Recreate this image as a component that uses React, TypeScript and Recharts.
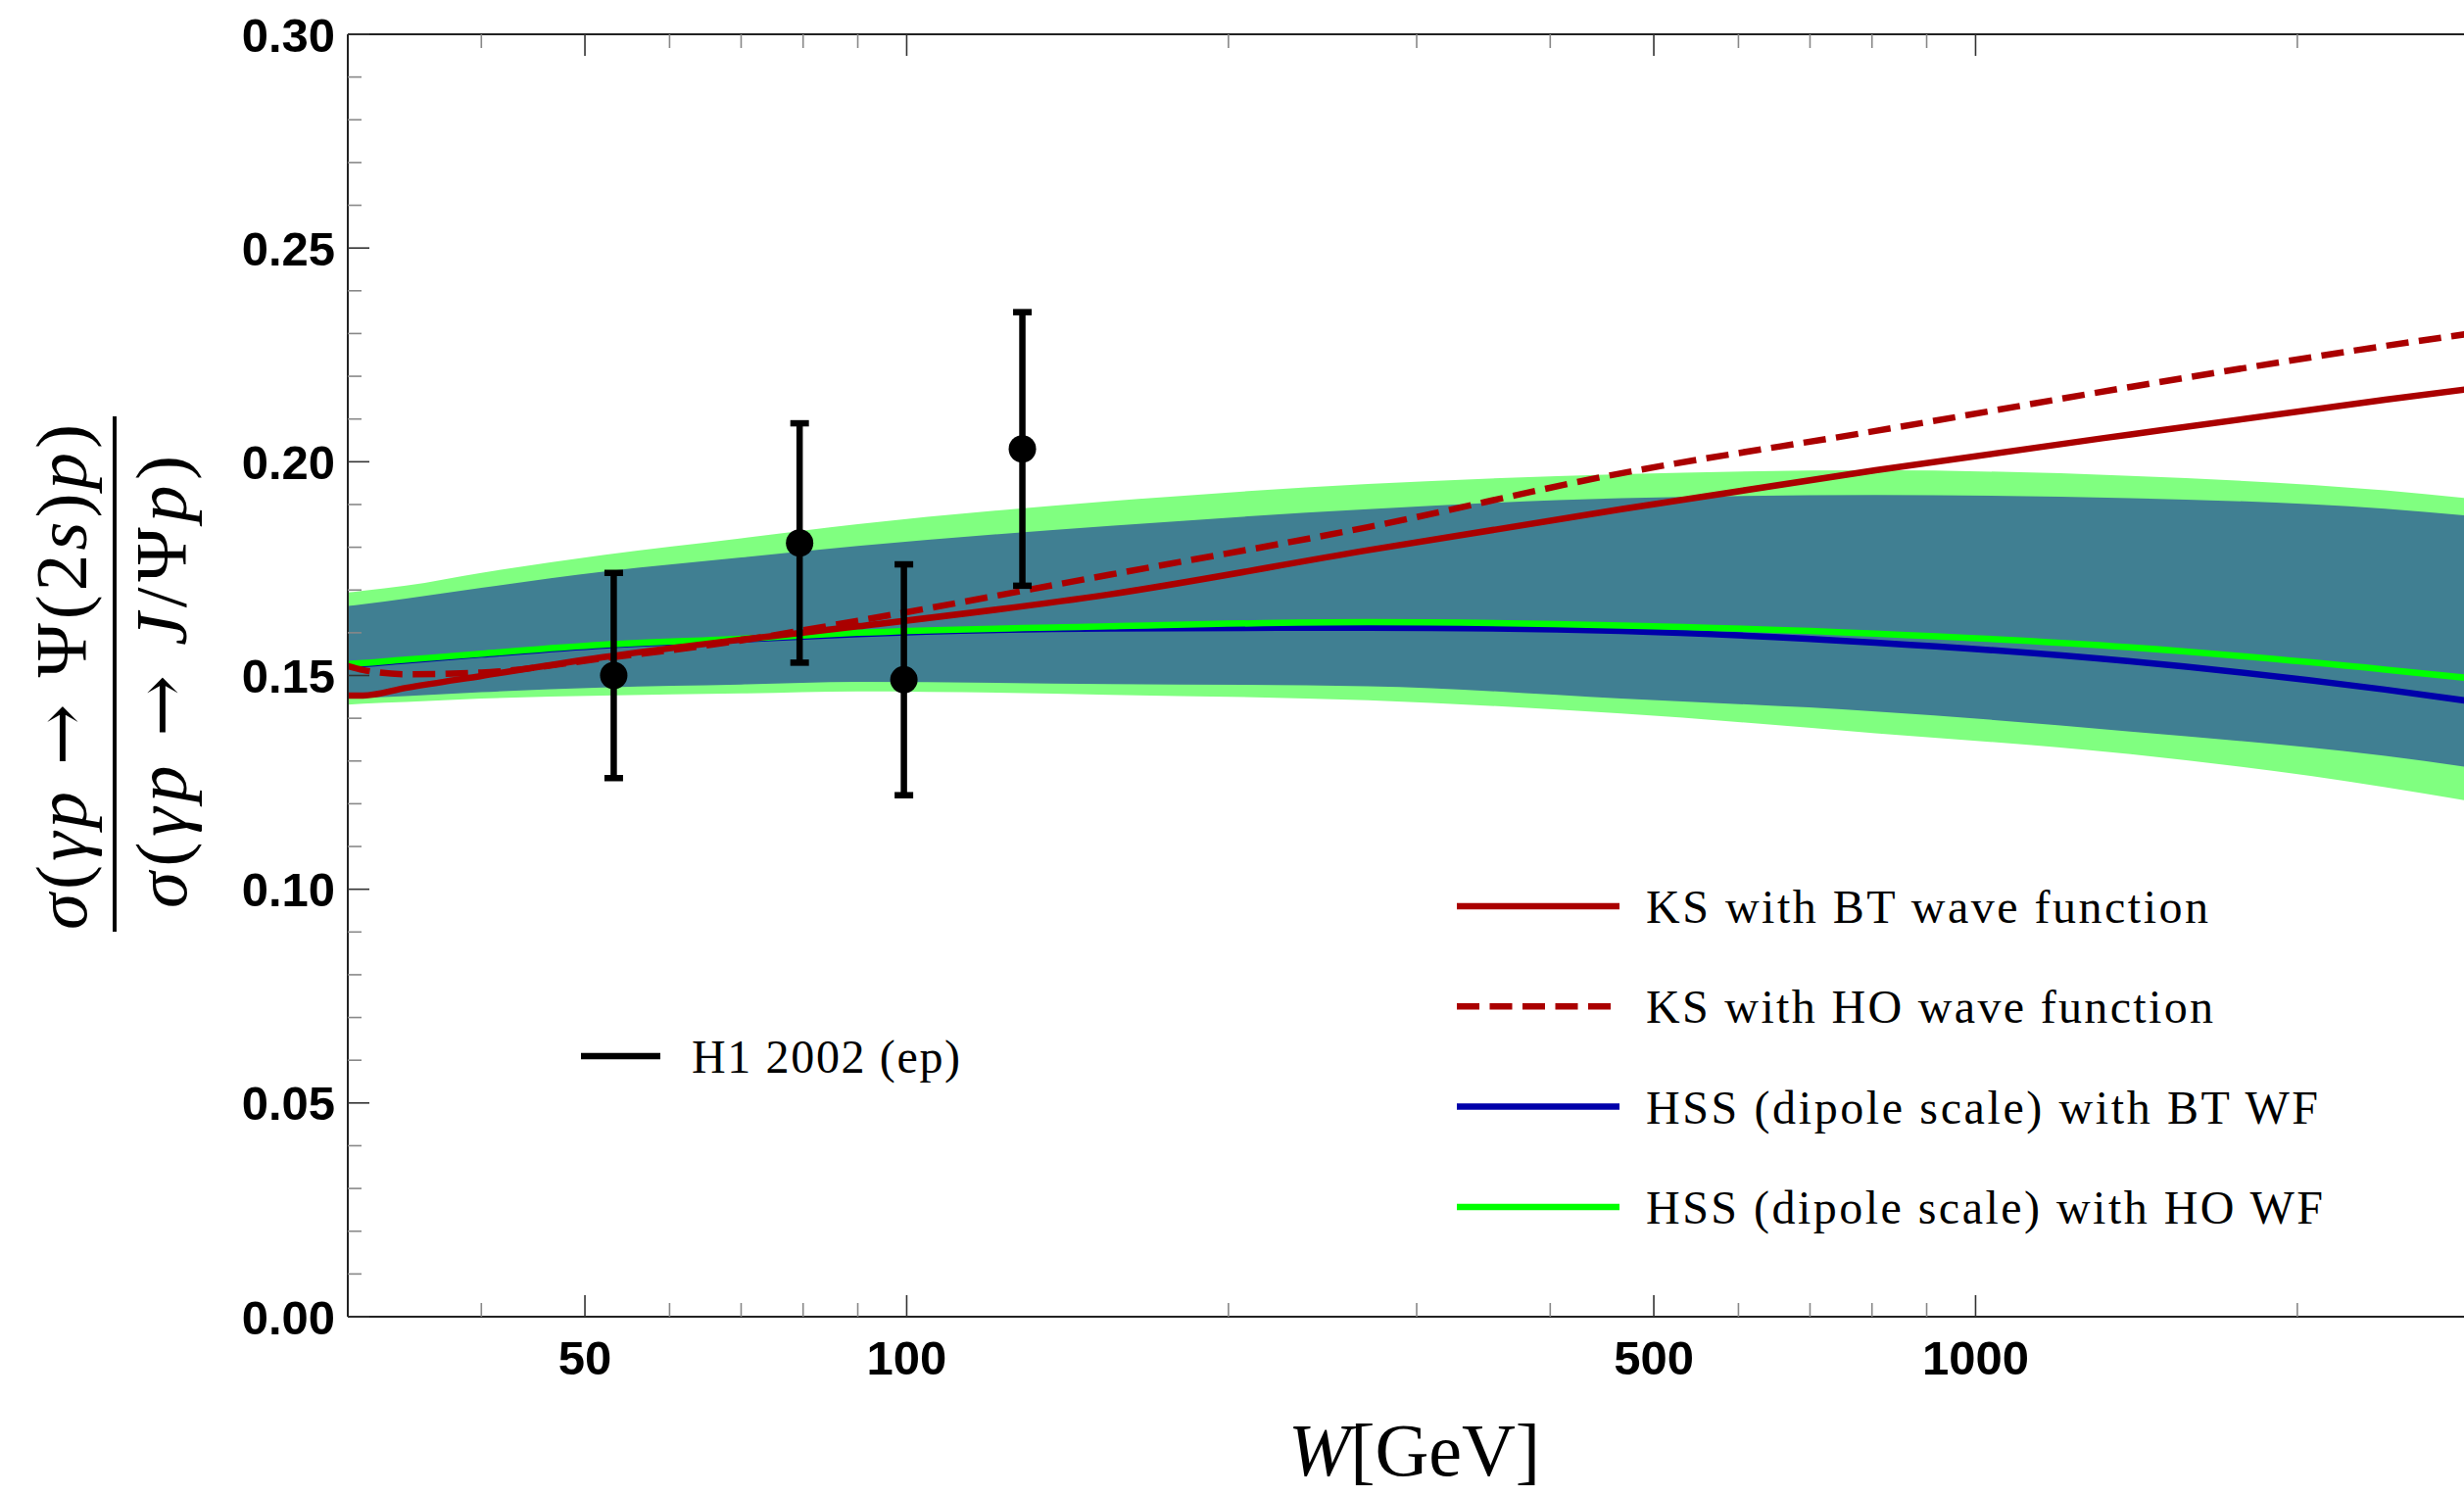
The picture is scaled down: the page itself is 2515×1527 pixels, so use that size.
import { ComposedChart, Area, Line, Scatter, ErrorBar, XAxis, YAxis } from 'recharts'

// W grid (GeV) the model curves were read at
const W_GEV = [30, 31, 34, 40, 52, 70, 90, 155, 270, 466, 806, 1396, 2416, 3000]

// HSS uncertainty bands (outer light green, inner teal)
const outerLow = [0.1432, 0.1434, 0.1438, 0.1446, 0.1453, 0.1458, 0.1463, 0.1455, 0.1442, 0.1411, 0.1365, 0.1316, 0.1239, 0.12]
const outerHigh = [0.1694, 0.1698, 0.171, 0.174, 0.1782, 0.1821, 0.1854, 0.1908, 0.1948, 0.1971, 0.198, 0.1967, 0.1933, 0.191]
const innerLow = [0.1447, 0.1448, 0.1452, 0.1461, 0.1472, 0.1479, 0.1485, 0.148, 0.1475, 0.1446, 0.1416, 0.1369, 0.1312, 0.128]
const innerHigh = [0.1663, 0.1667, 0.168, 0.1705, 0.1743, 0.1776, 0.1803, 0.185, 0.1889, 0.1915, 0.1922, 0.1915, 0.189, 0.187]

// model curves
const ksBT = [0.1453, 0.1453, 0.1471, 0.1499, 0.1543, 0.1584, 0.1615, 0.169, 0.1793, 0.1889, 0.198, 0.2064, 0.2145, 0.2175]
const ksHO = [0.1522, 0.1513, 0.1503, 0.1507, 0.154, 0.1582, 0.1628, 0.1736, 0.1847, 0.1973, 0.2072, 0.2175, 0.2271, 0.2305]
const hssBT = [0.1525, 0.1527, 0.1535, 0.1549, 0.157, 0.1584, 0.1597, 0.161, 0.1612, 0.1604, 0.1577, 0.1533, 0.1467, 0.1435]
const hssHO = [0.1527, 0.1529, 0.1537, 0.1551, 0.1572, 0.1586, 0.16, 0.1615, 0.1625, 0.1617, 0.1598, 0.1566, 0.1514, 0.149]

// H1 2002 (ep) points
const h1W = [53.2, 79.4, 99.4, 128.3]
const h1Ratio = [0.15, 0.181, 0.149, 0.203]
const h1Err = [0.024, 0.028, 0.027, 0.032]

const X_TICKS = [40, 50, 60, 70, 80, 90, 100, 200, 300, 400, 500, 600, 700, 800, 900, 1000, 2000]
const X_LABELS = [50, 100, 500, 1000]
const Y_TICKS = [0, 0.01, 0.02, 0.03, 0.04, 0.05, 0.06, 0.07, 0.08, 0.09, 0.1, 0.11, 0.12, 0.13, 0.14, 0.15,
  0.16, 0.17, 0.18, 0.19, 0.2, 0.21, 0.22, 0.23, 0.24, 0.25, 0.26, 0.27, 0.28, 0.29, 0.3]

const legendNames = ['KS with BT wave function', 'KS with HO wave function', 'HSS (dipole scale) with BT WF', 'HSS (dipole scale) with HO WF']
const legendColors = ['#aa0000', '#aa0000', '#0000aa', '#00ff00']
const legendDashed = [false, true, false, false]
const legendWidths = [574, 579, 686, 691]

const RED = '#aa0000'
const TEAL = '#407f92'
const LIGHT_GREEN = '#80ff80'
const LW = 6.5

const rows = W_GEV.map((w, i) => ({
  W: w,
  outer: [outerLow[i], outerHigh[i]],
  inner: [innerLow[i], innerHigh[i]],
  ksBT: ksBT[i],
  ksHO: ksHO[i],
  hssBT: hssBT[i],
  hssHO: hssHO[i],
}))

const h1Points = h1W.map((w, i) => ({ W: w, ratio: h1Ratio[i], err: h1Err[i] }))

const MAJOR = 22
const MINOR = 14
const tickFont = { fontFamily: '"Liberation Sans", Arial, sans-serif', fontWeight: 700, fontSize: 49 }

const isMajorY = (v: number) => Math.round(v * 100) % 5 === 0

function BottomTick({ x, y, payload }: any) {
  const major = X_LABELS.includes(payload.value)
  return (
    <g>
      <line x1={x} x2={x} y1={y} y2={y - (major ? MAJOR : MINOR)} stroke={major ? '#333' : '#888'} strokeWidth={1.6} />
      {major && (
        <text x={x} y={y + 59} textAnchor="middle" fill="#000" style={tickFont}>
          {payload.value}
        </text>
      )}
    </g>
  )
}

function TopTick({ x, y, payload }: any) {
  const major = X_LABELS.includes(payload.value)
  return <line x1={x} x2={x} y1={y} y2={y + (major ? MAJOR : MINOR)} stroke={major ? '#333' : '#888'} strokeWidth={1.6} />
}

function LeftTick({ x, y, payload }: any) {
  const major = isMajorY(payload.value)
  return (
    <g>
      <line x1={x} x2={x + (major ? MAJOR : MINOR)} y1={y} y2={y} stroke={major ? '#333' : '#888'} strokeWidth={1.6} />
      {major && (
        <text x={x - 13} y={y + 17.5} textAnchor="end" fill="#000" style={tickFont}>
          {payload.value.toFixed(2)}
        </text>
      )}
    </g>
  )
}

function RightTick({ x, y, payload }: any) {
  const major = isMajorY(payload.value)
  return <line x1={x} x2={x - (major ? MAJOR : MINOR)} y1={y} y2={y} stroke={major ? '#333' : '#888'} strokeWidth={1.6} />
}

const Dot = ({ cx, cy }: any) => <circle cx={cx} cy={cy} r={14} fill="#000" />

const serif = '"Liberation Serif", "Times New Roman", serif'
const arrowFont = '"DejaVu Serif", serif'

function Overlay() {
  return (
    <svg width={2515} height={1527} style={{ position: 'absolute', left: 0, top: 0, pointerEvents: 'none' }}>
      {/* y title as a fraction, rotated */}
      <g transform="translate(88,691) rotate(-90)">
        <text textAnchor="middle" fontSize={75} fontFamily={serif} textLength={516} lengthAdjust="spacing" fill="#000">
          <tspan fontStyle="italic">σ</tspan>(<tspan fontStyle="italic">γp</tspan> <tspan fontFamily={arrowFont}>→</tspan> Ψ(2<tspan fontStyle="italic">s</tspan>)<tspan fontStyle="italic">p</tspan>)
        </text>
      </g>
      <line x1={117} x2={117} y1={425} y2={951} stroke="#000" strokeWidth={4} />
      <g transform="translate(190,696) rotate(-90)">
        <text textAnchor="middle" fontSize={75} fontFamily={serif} textLength={462} lengthAdjust="spacing" fill="#000">
          <tspan fontStyle="italic">σ</tspan>(<tspan fontStyle="italic">γp</tspan> <tspan fontFamily={arrowFont}>→</tspan> <tspan fontStyle="italic">J</tspan>/Ψ<tspan fontStyle="italic">p</tspan>)
        </text>
      </g>

      {/* x title */}
      <text x={1315} y={1506} fontSize={76} fontFamily={serif} textLength={257} lengthAdjust="spacing" fill="#000">
        <tspan fontStyle="italic">W</tspan>[GeV]
      </text>

      {/* model legend */}
      {legendNames.map((name, i) => {
        const ly = 925 + i * 102.3
        return (
          <g key={name}>
            <line x1={1487} x2={legendDashed[i] ? 1644 : 1653} y1={ly} y2={ly} stroke={legendColors[i]} strokeWidth={LW}
              strokeDasharray={legendDashed[i] ? '23 10.5' : undefined} />
            <text x={1680} y={ly + 17} fontSize={48} fontFamily={serif} textLength={legendWidths[i]} lengthAdjust="spacing" fill="#000">
              {name}
            </text>
          </g>
        )
      })}

      {/* data legend */}
      <line x1={593} x2={674} y1={1078} y2={1078} stroke="#000" strokeWidth={LW} />
      <text x={706} y={1095} fontSize={48} fontFamily={serif} textLength={274} lengthAdjust="spacing" fill="#000">
        H1 2002 (ep)
      </text>
    </svg>
  )
}

export default function App() {
  return (
    <div style={{ position: 'absolute', left: 0, top: 0, width: 2515, height: 1527, overflow: 'hidden', background: '#fff' }}>
      <ComposedChart width={2600} height={1527} data={rows} margin={{ top: 25, right: 53, bottom: 83, left: 255 }}>
        <XAxis dataKey="W" type="number" scale="log" domain={[30, 3000]} allowDataOverflow ticks={X_TICKS} interval={0}
          tickSize={0} tickMargin={0} height={100} tick={<BottomTick />} axisLine={{ stroke: '#222', strokeWidth: 2 }} />
        <XAxis xAxisId="top" orientation="top" dataKey="W" type="number" scale="log" domain={[30, 3000]} allowDataOverflow
          ticks={X_TICKS} interval={0} tickSize={0} tickMargin={0} height={10} tick={<TopTick />}
          axisLine={{ stroke: '#222', strokeWidth: 2 }} />
        <YAxis type="number" domain={[0, 0.3]} allowDataOverflow ticks={Y_TICKS} interval={0} tickSize={0} tickMargin={0}
          width={100} tick={<LeftTick />} axisLine={{ stroke: '#222', strokeWidth: 2 }} />
        <YAxis yAxisId="right" orientation="right" type="number" domain={[0, 0.3]} allowDataOverflow ticks={Y_TICKS}
          interval={0} tickSize={0} tickMargin={0} width={10} tick={<RightTick />} axisLine={{ stroke: '#222', strokeWidth: 2 }} />

        <Area dataKey="outer" type="monotone" fill={LIGHT_GREEN} fillOpacity={1} stroke="none" isAnimationActive={false} />
        <Area dataKey="inner" type="monotone" fill={TEAL} fillOpacity={1} stroke="none" isAnimationActive={false} />

        <Line dataKey="hssBT" type="monotone" stroke="#0000aa" strokeWidth={LW} dot={false} isAnimationActive={false} />
        <Line dataKey="hssHO" type="monotone" stroke="#00ff00" strokeWidth={LW} dot={false} isAnimationActive={false} />
        <Line dataKey="ksBT" type="monotone" stroke={RED} strokeWidth={LW} dot={false} isAnimationActive={false} />
        <Line dataKey="ksHO" type="monotone" stroke={RED} strokeWidth={LW} strokeDasharray="23 10.5" dot={false}
          isAnimationActive={false} />

        <Scatter data={h1Points} dataKey="ratio" shape={<Dot />} isAnimationActive={false}>
          <ErrorBar dataKey="err" direction="y" width={9.5} stroke="#000" strokeWidth={LW} isAnimationActive={false} />
        </Scatter>
      </ComposedChart>
      <Overlay />
    </div>
  )
}
